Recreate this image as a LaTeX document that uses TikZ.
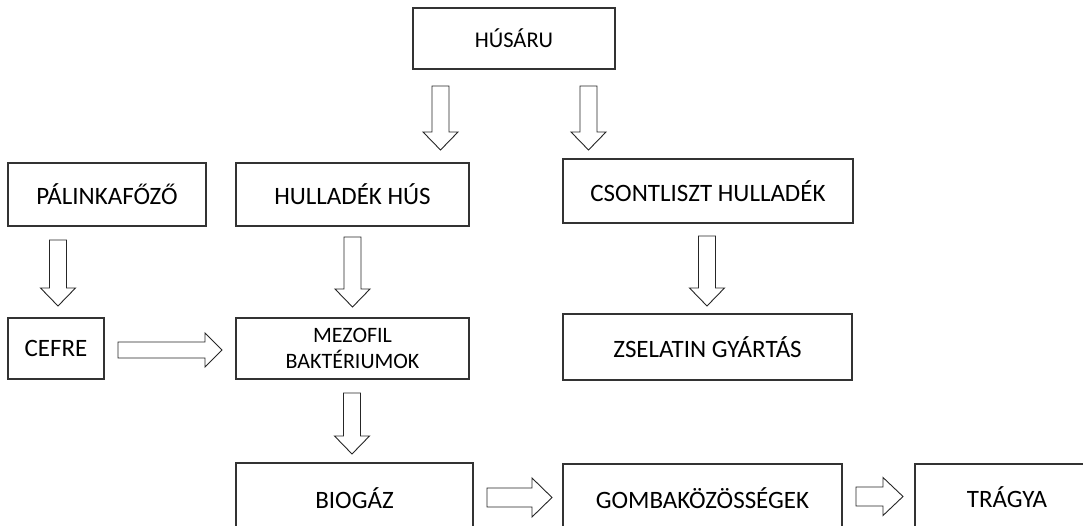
\documentclass[tikz,border=0pt]{standalone}
\usepackage{fontspec}
\setmainfont{Carlito}
\usetikzlibrary{calc}
\tikzset{
  box/.style={draw=black!80, line width=1.3pt, fill=white, align=center, inner sep=0pt,
    font=\fontsize{25}{27}\selectfont},
  smalltext/.style={font=\fontsize{22}{26}\selectfont},
  blockarrow/.style={draw=black!85, line width=0.9pt, fill=white, line join=miter},
}
\newcommand\fatdown[2]{%
  \draw[blockarrow] let \p1=(#1), \p2=(#2) in
    (\x1-8.5pt,\y1) -- (\x1+8.5pt,\y1) -- (\x1+8.5pt,\y2+18pt) -- (\x1+17.5pt,\y2+18pt)
    -- (\x1,\y2) -- (\x1-17.5pt,\y2+18pt) -- (\x1-8.5pt,\y2+18pt) -- cycle;}
% start, end, shaft half width, head half width, head length
\newcommand\fatright[5]{%
  \draw[blockarrow] let \p1=(#1), \p2=(#2) in
    (\x1,\y1+#3) -- (\x2-#5,\y1+#3) -- (\x2-#5,\y1+#4) -- (\x2,\y1)
    -- (\x2-#5,\y1-#4) -- (\x2-#5,\y1-#3) -- (\x1,\y1-#3) -- cycle;}
\begin{document}
\begin{tikzpicture}[x=1pt,y=-1pt]
\useasboundingbox (0,0) rectangle (1083,526);
\clip (0,0) rectangle (1083,526);
% boxes
\node[box, minimum width=202pt, minimum height=61pt, font=\fontsize{22.5}{26}\selectfont] (husaru) at (514,38.5) {HÚSÁRU};
\node[box, minimum width=198pt, minimum height=63pt] (palinka) at (107,194.5) {PÁLINKAFŐZŐ};
\node[box, minimum width=233pt, minimum height=63pt] (hullhus) at (352.5,194.5) {HULLADÉK HÚS};
\node[box, minimum width=290pt, minimum height=64pt] (csont) at (708,191) {CSONTLISZT HULLADÉK};
\node[box, minimum width=96pt, minimum height=61pt] (cefre) at (56,348.5) {CEFRE};
\node[box, smalltext, minimum width=233pt, minimum height=61pt] (mezofil) at (352.5,348.5) {MEZOFIL\\BAKTÉRIUMOK};
\node[box, minimum width=289pt, minimum height=66pt] (zselatin) at (707.5,347) {ZSELATIN GYÁRTÁS};
\node[box, minimum width=237pt, minimum height=70pt] (biogaz) at (354.5,498) {BIOGÁZ};
\node[box, minimum width=279pt, minimum height=68pt] (gomba) at (702.5,498) {GOMBAKÖZÖSSÉGEK};
\node[box, minimum width=184pt, minimum height=66pt] (tragya) at (1007,497) {TRÁGYA};
% arrow end points
\coordinate (a1s) at (440.5,86);  \coordinate (a1e) at (440.5,150);
\coordinate (a2s) at (588.5,86);  \coordinate (a2e) at (588.5,150);
\coordinate (a3s) at (58,240);    \coordinate (a3e) at (58,306);
\coordinate (a4s) at (352.5,237); \coordinate (a4e) at (352.5,307);
\coordinate (a5s) at (352,393);   \coordinate (a5e) at (352,454);
\coordinate (a6s) at (707,236);   \coordinate (a6e) at (707,306);
\coordinate (h1s) at (118,350);   \coordinate (h1e) at (222,350);
\coordinate (h2s) at (487,497.5); \coordinate (h2e) at (552,497.5);
\coordinate (h3s) at (856,496.5); \coordinate (h3e) at (903,496.5);
% arrows
\fatdown{a1s}{a1e}
\fatdown{a2s}{a2e}
\fatdown{a3s}{a3e}
\fatdown{a4s}{a4e}
\fatdown{a5s}{a5e}
\fatdown{a6s}{a6e}
\fatright{h1s}{h1e}{8pt}{17pt}{17pt}
\fatright{h2s}{h2e}{9.5pt}{19.5pt}{20pt}
\fatright{h3s}{h3e}{9.5pt}{19pt}{20pt}
\end{tikzpicture}
\end{document}
